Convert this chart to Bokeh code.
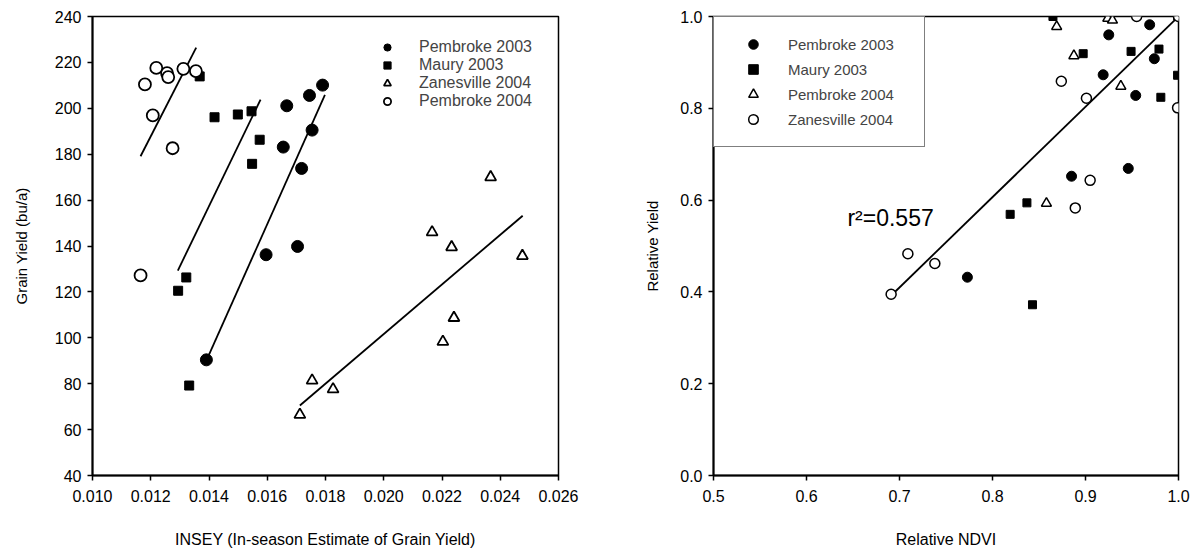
from bokeh.plotting import figure
from bokeh.layouts import row
from bokeh.models import Range1d, FixedTicker, NumeralTickFormatter, Label
from bokeh.embed import file_html
from bokeh.resources import INLINE

FONT = "Liberation Sans"

# ---------------- Left chart data: INSEY vs grain yield ----------------
pem03_insey = [0.0179, 0.01745, 0.01667, 0.01655, 0.01754, 0.01718, 0.01596, 0.01704, 0.01391]
pem03_yield = [210.1, 205.6, 201.1, 183.1, 190.5, 173.8, 136.2, 139.8, 90.4]
maury03_insey = [0.01368, 0.01419, 0.01499, 0.01546, 0.01574, 0.01548, 0.01322, 0.01294, 0.01332]
maury03_yield = [213.9, 196.1, 197.3, 198.7, 186.3, 175.8, 126.3, 120.5, 79.2]
zane04_insey = [0.02367, 0.02166, 0.02233, 0.02476, 0.02241, 0.02203, 0.01754, 0.01826, 0.01712]
zane04_yield = [170.0, 146.0, 139.5, 135.7, 108.7, 98.3, 81.4, 77.6, 66.5]
pem04_insey = [0.0118, 0.01219, 0.01256, 0.0126, 0.01207, 0.01275, 0.01312, 0.01355, 0.01165]
pem04_yield = [210.4, 217.6, 215.3, 213.6, 196.9, 182.6, 217.2, 216.2, 127.2]

# regression line end points
pem03_fit_x = [0.01399, 0.01798]
pem03_fit_y = [92.3, 205.9]
maury03_fit_x = [0.01293, 0.01577]
maury03_fit_y = [129.3, 203.8]
zane04_fit_x = [0.01712, 0.02477]
zane04_fit_y = [70.5, 153.2]
pem04_fit_x = [0.01165, 0.01356]
pem04_fit_y = [179.1, 226.4]

left_xticks = [0.010, 0.012, 0.014, 0.016, 0.018, 0.020, 0.022, 0.024, 0.026]
left_yticks = [40, 60, 80, 100, 120, 140, 160, 180, 200, 220, 240]

# ---------------- Right chart data: relative NDVI vs relative yield ----------------
r_pem03_x = [0.969, 0.925, 0.974, 0.919, 0.954, 0.946, 0.885, 0.773]
r_pem03_y = [0.982, 0.960, 0.908, 0.873, 0.828, 0.669, 0.652, 0.432]
r_maury03_x = [0.865, 0.8975, 0.949, 0.979, 0.999, 0.981, 0.837, 0.819, 0.843]
r_maury03_y = [1.0, 0.919, 0.924, 0.929, 0.872, 0.824, 0.594, 0.569, 0.372]
r_pem04_x = [0.924, 0.929, 1.0, 0.869, 0.8875, 0.938, 0.858]
r_pem04_y = [0.996, 0.992, 1.0, 0.978, 0.9145, 0.848, 0.593]
r_zane04_x = [0.955, 1.0, 0.874, 0.901, 0.999, 0.905, 0.889, 0.691, 0.709, 0.738]
r_zane04_y = [1.0, 1.0, 0.859, 0.822, 0.801, 0.643, 0.583, 0.395, 0.483, 0.462]

r_fit_x = [0.69, 1.0]
r_fit_y = [0.39, 1.0]

right_xticks = [0.5, 0.6, 0.7, 0.8, 0.9, 1.0]
right_yticks = [0.0, 0.2, 0.4, 0.6, 0.8, 1.0]
r2_text = "r²=0.557"


def style(p, xticks, yticks, xfmt, yfmt, xlabel, ylabel, ystandoff):
    p.grid.visible = False
    p.outline_line_color = "black"
    p.outline_line_width = 1.5
    p.outline_line_alpha = 1
    for ax in (p.xaxis[0], p.yaxis[0]):
        ax.axis_line_color = "black"
        ax.axis_line_width = 2
        ax.major_tick_line_color = "black"
        ax.major_tick_line_width = 1.5
        ax.major_tick_in = 0
        ax.major_tick_out = 5
        ax.minor_tick_line_color = None
        ax.major_label_text_font = FONT
        ax.major_label_text_font_size = "16px"
        ax.major_label_text_color = "black"
        ax.axis_label_text_font = FONT
        ax.axis_label_text_font_style = "normal"
        ax.axis_label_text_color = "black"
    p.xaxis[0].axis_label_text_font_size = "16px"
    p.yaxis[0].axis_label_text_font_size = "15px"
    p.xaxis[0].ticker = FixedTicker(ticks=xticks)
    p.yaxis[0].ticker = FixedTicker(ticks=yticks)
    p.xaxis[0].formatter = NumeralTickFormatter(format=xfmt)
    p.yaxis[0].formatter = NumeralTickFormatter(format=yfmt)
    p.xaxis[0].axis_label = xlabel
    p.yaxis[0].axis_label = ylabel
    p.xaxis[0].major_label_standoff = 9
    p.xaxis[0].axis_label_standoff = 26
    p.yaxis[0].major_label_standoff = 6
    p.yaxis[0].axis_label_standoff = ystandoff


# ---------------- Left figure ----------------
p1 = figure(width=600, height=551, output_backend="svg", toolbar_location=None,
            x_range=Range1d(0.010, 0.026), y_range=Range1d(40, 240),
            min_border_left=92, min_border_right=42, min_border_top=16, min_border_bottom=76)
style(p1, left_xticks, left_yticks, "0.000", "0", "INSEY (In-season Estimate of Grain Yield)",
      "Grain Yield (bu/a)", 22)

for fx, fy in ((pem03_fit_x, pem03_fit_y), (maury03_fit_x, maury03_fit_y),
               (zane04_fit_x, zane04_fit_y), (pem04_fit_x, pem04_fit_y)):
    p1.line(fx, fy, line_color="black", line_width=1.8)

p1.scatter(pem03_insey, pem03_yield, marker="circle", size=12, fill_color="black",
           line_color="black", legend_label="Pembroke 2003")
p1.scatter(maury03_insey, maury03_yield, marker="square", size=9, fill_color="black",
           line_color="black", legend_label="Maury 2003")
p1.scatter(zane04_insey, zane04_yield, marker="triangle", size=11, fill_color="white",
           line_color="black", line_width=1.8, legend_label="Zanesville 2004")
p1.scatter(pem04_insey, pem04_yield, marker="circle", size=12, fill_color="white",
           line_color="black", line_width=1.8, legend_label="Pembroke 2004")

lg1 = p1.legend[0]
lg1.location = (283, 365)
lg1.border_line_color = None
lg1.background_fill_alpha = 0
lg1.padding = 5
lg1.margin = 0
lg1.spacing = 0
lg1.glyph_width = 24
lg1.glyph_height = 18
lg1.label_height = 18
lg1.label_standoff = 20
lg1.label_text_font = FONT
lg1.label_text_font_size = "16px"

# ---------------- Right figure ----------------
p2 = figure(width=591, height=551, output_backend="svg", toolbar_location=None,
            x_range=Range1d(0.5, 1.0), y_range=Range1d(0.0, 1.0),
            min_border_left=113, min_border_right=13, min_border_top=15, min_border_bottom=76)
style(p2, right_xticks, right_yticks, "0.0", "0.0", "Relative NDVI", "Relative Yield", 16)

p2.line(r_fit_x, r_fit_y, line_color="black", line_width=1.8)
p2.scatter(r_pem03_x, r_pem03_y, marker="circle", size=10, fill_color="black",
           line_color="black", legend_label="Pembroke 2003")
p2.scatter(r_maury03_x, r_maury03_y, marker="square", size=8, fill_color="black",
           line_color="black", legend_label="Maury 2003")
p2.scatter(r_pem04_x, r_pem04_y, marker="triangle", size=10, fill_color="white",
           line_color="black", line_width=1.5, legend_label="Pembroke 2004")
p2.scatter(r_zane04_x, r_zane04_y, marker="circle", size=10, fill_color="white",
           line_color="black", line_width=1.5, legend_label="Zanesville 2004")

lg2 = p2.legend[0]
lg2.location = "top_left"
lg2.border_line_color = "black"
lg2.border_line_width = 1.5
lg2.background_fill_color = "white"
lg2.background_fill_alpha = 1
lg2.padding = 15
lg2.margin = 0
lg2.spacing = 1
lg2.glyph_width = 48
lg2.glyph_height = 24
lg2.label_height = 24
lg2.label_standoff = 11
lg2.label_width = 121
lg2.label_text_font = FONT
lg2.label_text_font_size = "15px"

p2.add_layout(Label(x=0.644, y=0.561, text=r2_text, text_font=FONT,
                    text_font_size="23px", text_color="black", text_baseline="alphabetic"))

layout = row(p1, p2)
open("out.html", "w").write(file_html(layout, INLINE))
